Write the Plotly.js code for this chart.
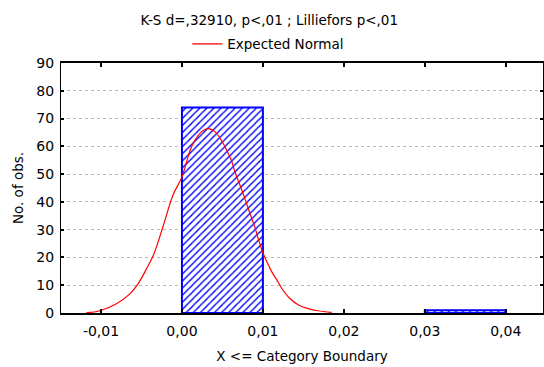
<!DOCTYPE html>
<html><head><meta charset="utf-8">
<script src="https://cdn.plot.ly/plotly-3.0.1.min.js"></script>
<style>html,body{margin:0;padding:0;background:#fff}#c{width:544px;height:367px}</style>
</head><body><div id="c"></div>
<script>
// Histogram bins (centers) and observed counts (empty bins omitted)
var binCenters = [0.005, 0.035];
var binCounts  = [74, 1];
// Expected normal curve
var curveX = [-0.0118, -0.0101, -0.0081, -0.0064, -0.0054, -0.0044, -0.0035, -0.0023, -0.0011, 0.0000,
              0.0010, 0.0016, 0.0024, 0.0032, 0.0041, 0.0049, 0.0055, 0.0061, 0.0065, 0.0072, 0.0078,
              0.0084, 0.0090, 0.0094, 0.0100, 0.0105, 0.0111, 0.0117, 0.0123, 0.0133, 0.0144, 0.0156,
              0.0168, 0.0185];
var curveY = [0.1, 0.8, 3.3, 7.0, 10.6, 15.8, 21.0, 31.5, 42.5, 49.0,
              58.5, 62.2, 65.2, 66.4, 65.2, 62.0, 58.8, 55.0, 51.2, 45.8, 41.0,
              35.8, 31.0, 27.0, 21.7, 18.4, 14.8, 12.0, 9.0, 5.3, 2.9, 1.6,
              0.8, 0.2];
var xTickVals = [-0.01, 0.00, 0.01, 0.02, 0.03, 0.04];
var xTickText = ["-0,01", "0,00", "0,01", "0,02", "0,03", "0,04"];
var yTickVals = [0, 10, 20, 30, 40, 50, 60, 70, 80, 90];

var font = {family: "DejaVu Sans, Verdana, sans-serif", size: 13.5, color: "#000"};

var traces = [
  {
    type: "bar", x: binCenters, y: binCounts, width: 0.01, showlegend: false,
    marker: {color: "#ffffff", line: {color: "#0000ff", width: 2},
             pattern: {shape: "/", fgcolor: "#0000ff", bgcolor: "#ffffff", size: 5, solidity: 0.28}},
    hoverinfo: "skip"
  },
  {
    type: "scatter", mode: "lines", x: curveX, y: curveY, name: "Expected Normal",
    line: {color: "#ff0000", width: 1.2, shape: "spline"}
  }
];

var layout = {
  width: 544, height: 367,
  margin: {l: 61, r: 1, t: 63, b: 54},
  paper_bgcolor: "#fff", plot_bgcolor: "#fff",
  font: font,
  title: {text: "K-S d=,32910, p<,01 ; Lilliefors p<,01", x: 0.495, xanchor: "center",
          y: 0.945, yanchor: "middle", font: font},
  showlegend: true,
  legend: {orientation: "h", x: 0.262, xanchor: "left", y: 1.076, yanchor: "middle",
           font: font, bgcolor: "rgba(0,0,0,0)"},
  bargap: 0,
  xaxis: {
    range: [-0.01494, 0.0446], tickvals: xTickVals, ticktext: xTickText,
    ticks: "inside", ticklen: 4, tickwidth: 2, tickcolor: "#000",
    showline: true, linecolor: "#000", linewidth: 2, mirror: "ticks",
    showgrid: false, zeroline: false, ticklabelstandoff: 4,
    tickfont: {family: font.family, size: 14, color: "#000"},
    title: {text: "X <= Category Boundary", font: font, standoff: 14}
  },
  yaxis: {
    range: [0, 90], tickvals: yTickVals, ticks: "inside", ticklen: 3, tickwidth: 2, tickcolor: "#000",
    showline: true, linecolor: "#000", linewidth: 1, mirror: "ticks",
    showgrid: true, gridcolor: "#bbbbbb", griddash: "dot", gridwidth: 1, zeroline: false,
    ticklabelstandoff: 3,
    tickfont: {family: font.family, size: 14, color: "#000"},
    title: {text: "No. of obs.", font: font, standoff: 9}
  }
};

Plotly.newPlot("c", traces, layout, {displayModeBar: false, staticPlot: true});
</script>
</body></html>
